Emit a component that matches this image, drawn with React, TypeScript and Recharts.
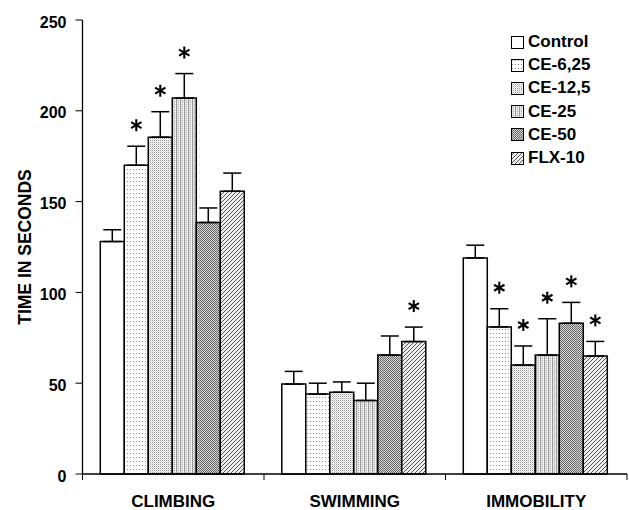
import { Bar, BarChart, ErrorBar, LabelList, Legend, XAxis, YAxis } from "recharts";

const categories = ["CLIMBING", "SWIMMING", "IMMOBILITY"];
const groups = ["Control", "CE-6,25", "CE-12,5", "CE-25", "CE-50", "FLX-10"];
const yTicks = [0, 50, 100, 150, 200, 250];

// mean time (s) per test, one array per treatment group
const control = [128, 49.5, 119];
const ce625 = [170, 44, 81];
const ce125 = [185.5, 45, 60];
const ce25 = [207, 40.5, 65.5];
const ce50 = [138.5, 65.5, 83];
const flx10 = [155.7, 72.9, 65];

// upper error (SEM)
const controlErr = [6.5, 7, 7];
const ce625Err = [10.5, 6, 10];
const ce125Err = [14, 5.7, 10.5];
const ce25Err = [13.5, 9.5, 20];
const ce50Err = [8, 10.5, 11.5];
const flx10Err = [10, 8, 8];

// significance markers (*)
const controlSig = [false, false, false];
const ce625Sig = [true, false, true];
const ce125Sig = [true, false, true];
const ce25Sig = [true, false, true];
const ce50Sig = [false, false, true];
const flx10Sig = [false, true, true];

const FONT = "'Liberation Sans', Arial, sans-serif";

const series = [
  { key: "control", values: control, errs: controlErr, sig: controlSig, fill: "#ffffff" },
  { key: "ce625", values: ce625, errs: ce625Err, sig: ce625Sig, fill: "url(#pat625)" },
  { key: "ce125", values: ce125, errs: ce125Err, sig: ce125Sig, fill: "url(#pat125)" },
  { key: "ce25", values: ce25, errs: ce25Err, sig: ce25Sig, fill: "url(#pat25)" },
  { key: "ce50", values: ce50, errs: ce50Err, sig: ce50Sig, fill: "url(#pat50)" },
  { key: "flx10", values: flx10, errs: flx10Err, sig: flx10Sig, fill: "url(#patflx)" },
].map((s, i) => ({ ...s, name: groups[i] }));

const data = categories.map((name, i) => {
  const row: Record<string, unknown> = { name };
  series.forEach((s) => {
    row[s.key] = s.values[i];
    row[s.key + "Err"] = [0, s.errs[i]];
  });
  return row;
});

function makeStar(s: (typeof series)[number]) {
  return (props: any) => {
    const { x, y, width, height, index } = props;
    if (!s.sig[index]) return null;
    const perUnit = Number(height) / s.values[index];
    const cx = Number(x) + Number(width) / 2;
    const cy = Number(y) - s.errs[index] * perUnit - 21;
    const r = 6;
    const dx = r * Math.cos(Math.PI / 6);
    const dy = r * Math.sin(Math.PI / 6);
    return (
      <g stroke="#000" strokeWidth={2.1}>
        <line x1={cx} y1={cy - r} x2={cx} y2={cy + r} />
        <line x1={cx - dx} y1={cy - dy} x2={cx + dx} y2={cy + dy} />
        <line x1={cx - dx} y1={cy + dy} x2={cx + dx} y2={cy - dy} />
      </g>
    );
  };
}

function CategoryTick(props: any) {
  const { x, y, payload, index } = props;
  const off = payload?.offset ?? 0;
  const last = index === categories.length - 1;
  return (
    <g>
      <line x1={x - off} x2={x - off} y1={y} y2={y + 6} stroke="#000" strokeWidth={1} />
      {last && <line x1={x + off} x2={x + off} y1={y} y2={y + 6} stroke="#000" strokeWidth={1} />}
      <text x={x} y={y + 33} textAnchor="middle" fontFamily={FONT} fontWeight="bold" fontSize={17} fill="#000">
        {payload.value}
      </text>
    </g>
  );
}

function LegendBox() {
  return (
    <div style={{ fontFamily: FONT, fontWeight: "bold", fontSize: 17, lineHeight: "23.2px", color: "#000" }}>
      {series.map((s) => (
        <div key={s.key} style={{ display: "flex", alignItems: "center", whiteSpace: "nowrap" }}>
          <svg width={13} height={13} style={{ marginRight: 4, marginTop: 1 }}>
            <rect x={0.5} y={0.5} width={12} height={12} fill={s.fill} stroke="#000" strokeWidth={1} />
          </svg>
          <span>{s.name}</span>
        </div>
      ))}
    </div>
  );
}

export default function App() {
  return (
    <div style={{ position: "absolute", left: 0, top: 0, width: 629, height: 510, background: "#fff" }}>
      <BarChart
        width={629}
        height={510}
        data={data}
        margin={{ top: 20, right: 2, left: 0, bottom: 0 }}
        barCategoryGap="9.8%"
        barGap={0}
      >
        <defs>
          <pattern id="pat625" width={3} height={4} patternUnits="userSpaceOnUse">
            <rect width={3} height={4} fill="#fff" />
            <rect x={1} y={1} width={1} height={1} fill="#8a8a8a" />
          </pattern>
          <pattern id="pat125" width={2} height={2} patternUnits="userSpaceOnUse">
            <rect width={2} height={2} fill="#fff" />
            <rect x={0} y={0} width={1} height={1} fill="#999" />
            <rect x={1} y={1} width={1} height={1} fill="#d6d6d6" />
          </pattern>
          <pattern id="pat25" width={4} height={2} patternUnits="userSpaceOnUse">
            <rect width={4} height={2} fill="#e4e4e4" />
            <rect x={0} y={0} width={1} height={2} fill="#9a9a9a" />
            <rect x={2} y={0} width={1} height={1} fill="#b0b0b0" />
            <rect x={3} y={1} width={1} height={1} fill="#fff" />
          </pattern>
          <pattern id="pat50" width={2} height={2} patternUnits="userSpaceOnUse">
            <rect width={2} height={2} fill="#d6d6d6" />
            <rect x={0} y={0} width={1} height={1} fill="#606060" />
            <rect x={1} y={1} width={1} height={1} fill="#707070" />
          </pattern>
          <pattern id="patflx" width={4} height={4} patternUnits="userSpaceOnUse">
            <rect width={4} height={4} fill="#eee" />
            <path d="M-1,1 L1,-1 M0,4 L4,0 M3,5 L5,3" stroke="#555" strokeWidth={1} />
          </pattern>
        </defs>
        <XAxis
          dataKey="name"
          axisLine={{ stroke: "#000", strokeWidth: 1.3 }}
          tickLine={false}
          tickSize={0}
          tickMargin={0}
          height={36}
          interval={0}
          tick={<CategoryTick />}
        />
        <XAxis xAxisId="top" orientation="top" dataKey="name" height={0} tick={false} tickLine={false} axisLine={{ stroke: "#000", strokeWidth: 1.3 }} />
        <YAxis
          type="number"
          domain={[0, 250]}
          ticks={yTicks}
          interval={0}
          width={82.5}
          axisLine={{ stroke: "#000", strokeWidth: 1.3 }}
          tickLine={{ stroke: "#000", strokeWidth: 1 }}
          tickSize={7}
          tickMargin={9}
          tick={{ fontFamily: FONT, fontWeight: "bold", fontSize: 16, fill: "#000", dy: 2 }}
          label={{
            content: ({ viewBox }: any) => (
              <text
                x={31}
                y={viewBox.y + viewBox.height / 2}
                transform={`rotate(-90, 31, ${viewBox.y + viewBox.height / 2})`}
                textAnchor="middle"
                fontFamily={FONT}
                fontWeight="bold"
                fontSize={17.5}
                fill="#000"
              >
                TIME IN SECONDS
              </text>
            ),
          }}
        />
        <YAxis yAxisId="right" orientation="right" type="number" domain={[0, 250]} width={0} tick={false} tickLine={false} axisLine={{ stroke: "#000", strokeWidth: 1.3 }} />
        <Legend
          layout="horizontal"
          verticalAlign="middle"
          align="center"
          content={<LegendBox />}
          wrapperStyle={{ position: "absolute", left: 511, top: 30, width: 115 }}
        />
        {series.map((s) => (
          <Bar key={s.key} dataKey={s.key} name={s.name} fill={s.fill} stroke="#000" strokeWidth={1.5} isAnimationActive={false}>
            <ErrorBar dataKey={s.key + "Err"} direction="y" width={9} stroke="#000" strokeWidth={1.5} />
            <LabelList dataKey={s.key} content={makeStar(s)} />
          </Bar>
        ))}
      </BarChart>
    </div>
  );
}
